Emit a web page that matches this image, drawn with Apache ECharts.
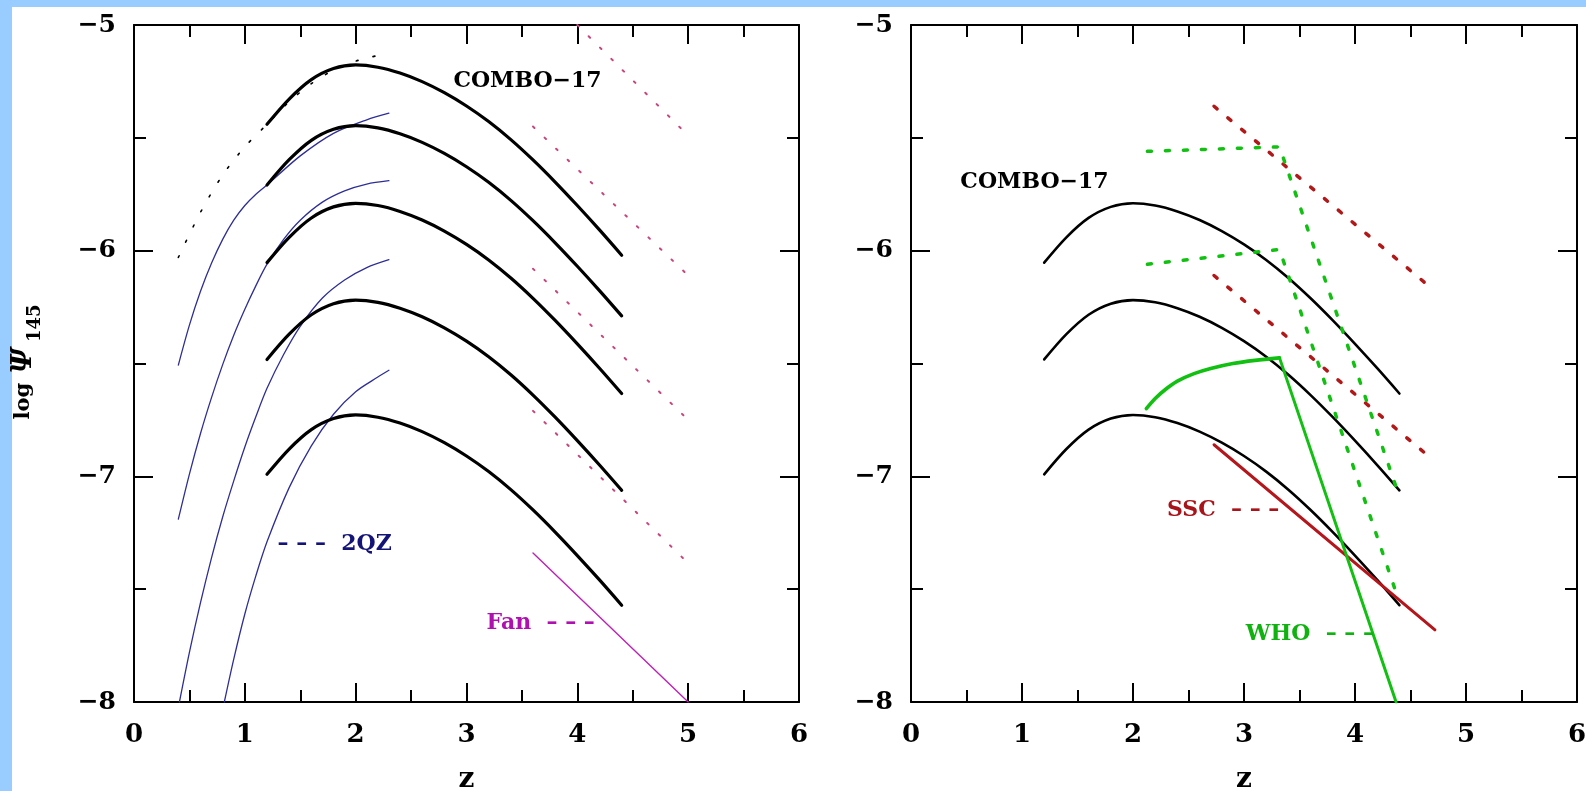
<!DOCTYPE html>
<html><head><meta charset="utf-8">
<script src="https://cdn.jsdelivr.net/npm/echarts@6/dist/echarts.min.js"></script>
<style>html,body{margin:0;padding:0;background:#fff;}#c{width:1586px;height:791px;}</style>
</head><body><div id="c"></div>
<script>
// ---------------- DATA ----------------
const xTickValues = [0, 1, 2, 3, 4, 5, 6];
const xTickLabels = ['0', '1', '2', '3', '4', '5', '6'];
const yTickValues = [-8, -7, -6, -5];
const yTickLabels = ['\u22128', '\u22127', '\u22126', '\u22125'];

// COMBO-17 curves (z = 1.2 .. 4.4)
const comboZ = [1.2, 1.4, 1.6, 1.8, 2.0, 2.2, 2.4, 2.6, 2.8, 3.0, 3.2, 3.4, 3.6, 3.8, 4.0, 4.2, 4.4];
const combo1 = [-5.440, -5.328, -5.242, -5.193, -5.177, -5.187, -5.213, -5.251, -5.300, -5.359, -5.428, -5.508, -5.598, -5.696, -5.800, -5.908, -6.020];
const combo2 = [-5.709, -5.597, -5.511, -5.462, -5.446, -5.456, -5.482, -5.520, -5.569, -5.628, -5.697, -5.777, -5.867, -5.965, -6.069, -6.177, -6.289];
const combo3 = [-6.053, -5.941, -5.855, -5.806, -5.790, -5.800, -5.826, -5.864, -5.913, -5.972, -6.041, -6.121, -6.211, -6.309, -6.413, -6.521, -6.633];
const combo4 = [-6.482, -6.370, -6.284, -6.235, -6.219, -6.229, -6.255, -6.293, -6.342, -6.401, -6.470, -6.550, -6.640, -6.738, -6.842, -6.950, -7.062];
const combo5 = [-6.991, -6.879, -6.793, -6.744, -6.728, -6.738, -6.764, -6.802, -6.851, -6.910, -6.979, -7.059, -7.149, -7.247, -7.351, -7.459, -7.571];

// 2QZ curves
const qz1Z = [0.40, 0.50, 0.60, 0.70, 0.80, 0.90, 1.00, 1.10, 1.20, 1.50, 1.80, 2.10, 2.30];
const qz1  = [-6.507, -6.33, -6.18, -6.055, -5.95, -5.865, -5.80, -5.75, -5.709, -5.58, -5.48, -5.42, -5.391];
const qz2Z = [0.40, 0.50, 0.60, 0.70, 0.80, 0.90, 1.00, 1.10, 1.20, 1.35, 1.50, 1.70, 1.90, 2.10, 2.30];
const qz2  = [-7.19, -6.99, -6.81, -6.65, -6.505, -6.375, -6.26, -6.155, -6.06, -5.95, -5.865, -5.785, -5.735, -5.705, -5.69];
const qz3Z = [0.41, 0.50, 0.60, 0.70, 0.80, 0.90, 1.00, 1.10, 1.20, 1.35, 1.50, 1.70, 1.90, 2.10, 2.30];
const qz3  = [-8.0, -7.78, -7.56, -7.36, -7.18, -7.02, -6.87, -6.735, -6.61, -6.46, -6.335, -6.21, -6.13, -6.075, -6.04];
const qz4Z = [0.815, 0.90, 1.00, 1.10, 1.20, 1.40, 1.60, 1.80, 2.00, 2.20, 2.30];
const qz4  = [-8.0, -7.81, -7.61, -7.44, -7.29, -7.05, -6.865, -6.725, -6.625, -6.56, -6.53];

// upper dotted black curve
const upDotZ = [0.40, 0.60, 0.80, 1.00, 1.20, 1.40, 1.60, 1.80, 2.00, 2.20, 2.30];
const upDot  = [-6.03, -5.83, -5.665, -5.54, -5.44, -5.34, -5.26, -5.20, -5.16, -5.135, -5.125];

// magenta dotted lines
const mag1Z = [4.0, 5.0], mag1 = [-5.0, -5.49];
const mag2Z = [3.6, 5.0], mag2 = [-5.45, -6.11];
const mag3Z = [3.6, 5.0], mag3 = [-6.08, -6.75];
const mag4Z = [3.6, 5.0], mag4 = [-6.71, -7.385];

// Fan
const fanZ = [3.6, 5.0], fan = [-7.34, -8.0];

// right panel
const whoDot1Z = [2.13, 3.32, 4.40], whoDot1 = [-5.56, -5.54, -7.09];
const whoDot2Z = [2.13, 3.32, 4.36], whoDot2 = [-6.06, -5.995, -7.50];
const sscDot1Z = [2.73, 4.71], sscDot1 = [-5.36, -6.175];
const sscDot2Z = [2.73, 4.71], sscDot2 = [-6.11, -6.93];
const sscZ = [2.73, 4.72], ssc = [-6.86, -7.68];
const whoArcZ = [2.12, 2.20, 2.30, 2.40, 2.55, 2.70, 2.90, 3.10, 3.32];
const whoArc  = [-6.70, -6.655, -6.612, -6.578, -6.545, -6.522, -6.500, -6.486, -6.475];
const whoDropZ = [3.32, 4.37], whoDrop = [-6.475, -8.0];

// ---------------- BUILD ----------------
const FONT = 'DejaVu Serif';
function pairs(zs, vs) { return zs.map((z, i) => [z, vs[i]]); }
function xLab(v) { const i = xTickValues.indexOf(v); return i >= 0 ? xTickLabels[i] : ''; }
function yLab(v) { const i = yTickValues.indexOf(v); return i >= 0 ? yTickLabels[i] : ''; }

function xAx(gi, pos, lab) {
  return {
    type: 'value', gridIndex: gi, position: pos, min: 0, max: 6, interval: 1,
    axisLine: { show: true, onZero: false, lineStyle: { color: '#000', width: 2 } },
    axisTick: { show: true, inside: true, length: 19, lineStyle: { color: '#000', width: 2 } },
    minorTick: { show: true, splitNumber: 2, length: 12, lineStyle: { color: '#000', width: 2 } },
    splitLine: { show: false }, minorSplitLine: { show: false },
    axisLabel: { show: lab, margin: 20, color: '#000', fontFamily: FONT, fontWeight: 'bold', fontSize: 26, formatter: xLab },
    name: lab ? 'z' : '', nameLocation: 'middle', nameGap: 64,
    nameTextStyle: { color: '#000', fontFamily: FONT, fontWeight: 'bold', fontSize: 28 }
  };
}
function yAx(gi, pos, lab) {
  return {
    type: 'value', gridIndex: gi, position: pos, min: -8, max: -5, interval: 1,
    axisLine: { show: true, onZero: false, lineStyle: { color: '#000', width: 2 } },
    axisTick: { show: true, inside: true, length: 19, lineStyle: { color: '#000', width: 2 } },
    minorTick: { show: true, splitNumber: 2, length: 12, lineStyle: { color: '#000', width: 2 } },
    splitLine: { show: false }, minorSplitLine: { show: false },
    axisLabel: { show: lab, margin: 18, color: '#000', fontFamily: FONT, fontWeight: 'bold', fontSize: 25, formatter: yLab }
  };
}

function line(p, zs, vs, color, width, type, smooth) {
  const ax = p === 0 ? 0 : 2;
  return {
    type: 'line', xAxisIndex: ax, yAxisIndex: ax, data: pairs(zs, vs),
    showSymbol: false, symbol: 'none', smooth: smooth || false, clip: true, silent: true,
    lineStyle: { color: color, width: width, type: type || 'solid', cap: 'round' },
    z: 2
  };
}

const BLUE = '#2e2e96', MAG = '#c020b8', MAGDOT = '#c8457e', GREEN = '#11c011', RED = '#b5161c', REDDOT = '#b31818';
const dot = [2, 14], gdot = [4, 14];

const series = [
  line(0, qz1Z, qz1, BLUE, 1.3, 'solid', 0.3),
  line(0, qz2Z, qz2, BLUE, 1.3, 'solid', 0.3),
  line(0, qz3Z, qz3, BLUE, 1.3, 'solid', 0.3),
  line(0, qz4Z, qz4, BLUE, 1.3, 'solid', 0.3),
  line(0, upDotZ, upDot, '#000', 1.6, [2, 15], 0.3),
  line(0, mag1Z, mag1, MAGDOT, 2, dot),
  line(0, mag2Z, mag2, MAGDOT, 2, dot),
  line(0, mag3Z, mag3, MAGDOT, 2, dot),
  line(0, mag4Z, mag4, MAGDOT, 2, dot),
  line(0, fanZ, fan, MAG, 1.4),
  line(0, comboZ, combo1, '#000', 3.2, 'solid', 0.3),
  line(0, comboZ, combo2, '#000', 3.2, 'solid', 0.3),
  line(0, comboZ, combo3, '#000', 3.2, 'solid', 0.3),
  line(0, comboZ, combo4, '#000', 3.2, 'solid', 0.3),
  line(0, comboZ, combo5, '#000', 3.2, 'solid', 0.3),

  line(1, comboZ, combo3, '#000', 2.6, 'solid', 0.3),
  line(1, comboZ, combo4, '#000', 2.6, 'solid', 0.3),
  line(1, comboZ, combo5, '#000', 2.6, 'solid', 0.3),
  line(1, sscDot1Z, sscDot1, REDDOT, 3.5, gdot),
  line(1, sscDot2Z, sscDot2, REDDOT, 3.5, gdot),
  line(1, whoDot1Z, whoDot1, GREEN, 3.5, gdot),
  line(1, whoDot2Z, whoDot2, GREEN, 3.5, gdot),
  line(1, sscZ, ssc, RED, 3),
  line(1, whoArcZ, whoArc, GREEN, 3.6, 'solid', 0.3),
  line(1, whoDropZ, whoDrop, GREEN, 3)
];

function labelSeries(p, items) {
  const ax = p === 0 ? 0 : 2;
  return {
    type: 'scatter', xAxisIndex: ax, yAxisIndex: ax, symbolSize: 1, silent: true, z: 5,
    itemStyle: { color: 'rgba(255,255,255,0)' },
    data: items.map(it => ({
      value: [it.z, it.v], name: it.t,
      label: { show: true, position: [0, 0], formatter: '{b}', color: it.c, align: it.a,
               verticalAlign: 'middle', textBorderWidth: 0, opacity: 1,
               fontFamily: FONT, fontWeight: 'bold', fontSize: 22 }
    }))
  };
}
series.push(labelSeries(0, [
  { t: 'COMBO\u221217', z: 3.555, v: -5.253, c: '#000000', a: 'center' },
  { t: '\u2013 \u2013 \u2013  2QZ', z: 1.30, v: -7.304, c: '#141478', a: 'left' },
  { t: 'Fan  \u2013 \u2013 \u2013', z: 3.185, v: -7.654, c: '#b010b0', a: 'left' }
]));
series.push(labelSeries(1, [
  { t: 'COMBO\u221217', z: 1.117, v: -5.70, c: '#000000', a: 'center' },
  { t: 'SSC  \u2013 \u2013 \u2013', z: 2.31, v: -7.154, c: '#a8141a', a: 'left' },
  { t: 'WHO  \u2013 \u2013 \u2013', z: 3.02, v: -7.703, c: '#0fb20f', a: 'left' }
]));

const option = {
  animation: false,
  backgroundColor: '#ffffff',
  grid: [
    { left: 134, top: 25, width: 665, height: 677, containLabel: false, outerBoundsMode: 'none' },
    { left: 911, top: 25, width: 666, height: 677, containLabel: false, outerBoundsMode: 'none' }
  ],
  xAxis: [xAx(0, 'bottom', true), xAx(0, 'top', false), xAx(1, 'bottom', true), xAx(1, 'top', false)],
  yAxis: [yAx(0, 'left', true), yAx(0, 'right', false), yAx(1, 'left', true), yAx(1, 'right', false)],
  series: series,
  graphic: [
    { type: 'rect', silent: true, z: 100, shape: { x: 0, y: 0, width: 1586, height: 7 }, style: { fill: '#99ccff' } },
    { type: 'rect', silent: true, z: 100, shape: { x: 0, y: 0, width: 12, height: 791 }, style: { fill: '#99ccff' } },
    { type: 'text', silent: true, z: 100, x: 24, y: 362, rotation: Math.PI / 2,
      style: {
        text: '{a|log }{b|\u03A8}{c|145}', align: 'center', verticalAlign: 'middle',
        rich: {
          a: { fontFamily: FONT, fontWeight: 'bold', fontSize: 21, fill: '#000', lineHeight: 40, verticalAlign: 'middle' },
          b: { fontFamily: FONT, fontWeight: 'bold', fontStyle: 'italic', fontSize: 28, fill: '#000', lineHeight: 40, verticalAlign: 'middle', padding: [0, 6, 0, 2] },
          c: { fontFamily: FONT, fontWeight: 'bold', fontSize: 18, fill: '#000', lineHeight: 16, verticalAlign: 'bottom' }
        }
      } }
  ]
};
const chart = echarts.init(document.getElementById('c'), null, { renderer: 'canvas' });
chart.setOption(option);
</script></body></html>
